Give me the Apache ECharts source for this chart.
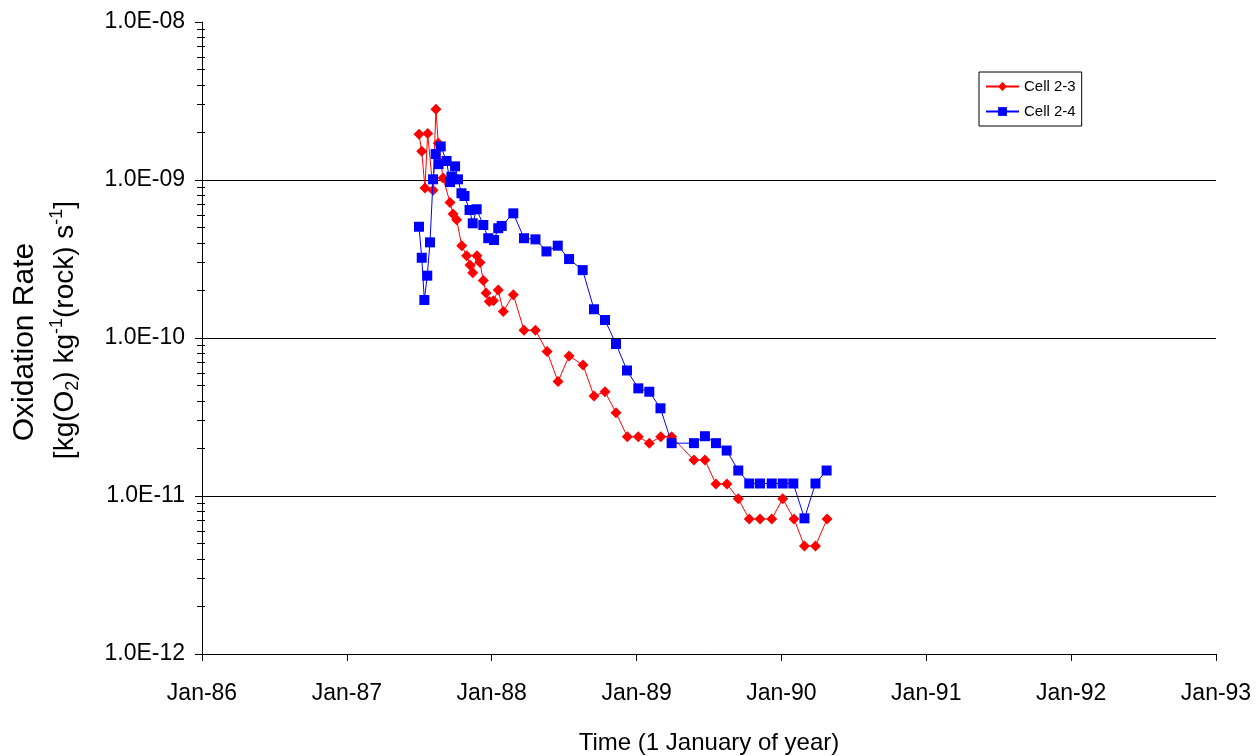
<!DOCTYPE html>
<html>
<head>
<meta charset="utf-8">
<script src="https://cdn.jsdelivr.net/npm/echarts@6/dist/echarts.min.js"></script>
<style>
html,body{margin:0;padding:0;background:#fff;}
#chart{width:1256px;height:756px;}
</style>
</head>
<body>
<div id="chart"></div>
<script>
// ---- data (time in decimal years, rate in kg(O2) kg-1(rock) s-1) ----
const seriesNames = ['Cell 2-3', 'Cell 2-4'];

const cell23Time = [1987.498, 1987.517, 1987.539, 1987.558, 1987.595, 1987.615, 1987.631, 1987.664, 1987.712, 1987.733,
  1987.758, 1987.793, 1987.827, 1987.850, 1987.869, 1987.898, 1987.919, 1987.942, 1987.961, 1987.983,
  1988.012, 1988.045, 1988.080, 1988.149, 1988.223, 1988.302, 1988.382, 1988.458, 1988.534, 1988.630,
  1988.706, 1988.782, 1988.858, 1988.936, 1989.012, 1989.088, 1989.167, 1989.242, 1989.396, 1989.472,
  1989.548, 1989.624, 1989.702, 1989.778, 1989.852, 1989.933, 1990.009, 1990.087, 1990.159, 1990.235, 1990.315];
const cell23Rate = [1.95e-9, 1.52e-9, 8.9e-10, 1.97e-9, 8.6e-10, 2.8e-9, 1.71e-9, 1.03e-9, 7.2e-10, 6.1e-10,
  5.6e-10, 3.84e-10, 3.32e-10, 2.9e-10, 2.59e-10, 3.32e-10, 3.0e-10, 2.31e-10, 1.93e-10, 1.70e-10,
  1.72e-10, 2.01e-10, 1.47e-10, 1.88e-10, 1.12e-10, 1.12e-10, 8.2e-11, 5.3e-11, 7.7e-11, 6.75e-11,
  4.3e-11, 4.57e-11, 3.37e-11, 2.37e-11, 2.37e-11, 2.16e-11, 2.37e-11, 2.37e-11, 1.69e-11, 1.69e-11,
  1.19e-11, 1.19e-11, 9.6e-12, 7.15e-12, 7.15e-12, 7.15e-12, 9.6e-12, 7.15e-12, 4.83e-12, 4.83e-12, 7.15e-12];

const cell24Time = [1987.498, 1987.517, 1987.535, 1987.555, 1987.574, 1987.595, 1987.613, 1987.633, 1987.648, 1987.688,
  1987.712, 1987.722, 1987.747, 1987.767, 1987.791, 1987.812, 1987.847, 1987.869, 1987.896, 1987.942,
  1987.976, 1988.016, 1988.045, 1988.069, 1988.149, 1988.223, 1988.302, 1988.378, 1988.456, 1988.534,
  1988.628, 1988.706, 1988.782, 1988.858, 1988.934, 1989.012, 1989.088, 1989.165, 1989.242, 1989.396,
  1989.472, 1989.548, 1989.622, 1989.702, 1989.778, 1989.852, 1989.933, 1990.009, 1990.082, 1990.159,
  1990.235, 1990.312];
const cell24Rate = [5.06e-10, 3.22e-10, 1.74e-10, 2.48e-10, 4.03e-10, 1.01e-9, 1.46e-9, 1.26e-9, 1.63e-9, 1.32e-9,
  9.7e-10, 1.05e-9, 1.22e-9, 1.01e-9, 8.24e-10, 7.92e-10, 6.46e-10, 5.32e-10, 6.53e-10, 5.19e-10,
  4.28e-10, 4.17e-10, 4.95e-10, 5.12e-10, 6.15e-10, 4.28e-10, 4.21e-10, 3.53e-10, 3.84e-10, 3.16e-10,
  2.69e-10, 1.52e-10, 1.30e-10, 9.16e-11, 6.23e-11, 4.8e-11, 4.57e-11, 3.59e-11, 2.16e-11, 2.16e-11,
  2.39e-11, 2.16e-11, 1.94e-11, 1.45e-11, 1.20e-11, 1.20e-11, 1.20e-11, 1.20e-11, 1.20e-11, 7.22e-12,
  1.20e-11, 1.45e-11];

// axis ranges / tick values
const xMin = 1986, xMax = 1993, xStep = 1;
const yMin = 1e-12, yMax = 1e-8;
const yMinorTicks = [];
for (let e = -12; e < -8; e++) {
  for (let m = 2; m <= 9; m++) yMinorTicks.push(m * Math.pow(10, e));
}

const xTitle = 'Time (1 January of year)';
const yTitle1 = 'Oxidation Rate';

// ---- chart ----
const FONT = '"Liberation Sans", Arial, sans-serif';
const chart = echarts.init(document.getElementById('chart'), null, {renderer: 'canvas'});

function pairs(t, v) { return t.map((x, i) => [x, v[i]]); }
function fmtExp(v) {
  const e = Math.round(Math.log10(v));
  const m = v / Math.pow(10, e);
  return m.toFixed(1) + 'E' + (e < 0 ? '-' : '+') + String(Math.abs(e)).padStart(2, '0');
}

const option = {
  animation: false,
  backgroundColor: '#fff',
  grid: {left: 202, right: 40, top: 22, bottom: 102, containLabel: false, outerBoundsMode: 'none'},
  legend: {
    orient: 'vertical',
    left: 979, top: 72,
    padding: [7, 6, 7, 6],
    borderColor: '#000', borderWidth: 1,
    itemWidth: 33, itemHeight: 11, itemGap: 10,
    textStyle: {fontFamily: FONT, fontSize: 15, color: '#000', lineHeight: 15},
    data: seriesNames
  },
  xAxis: {
    type: 'value', min: xMin, max: xMax, interval: xStep,
    name: xTitle, nameLocation: 'middle', nameGap: 77,
    nameTextStyle: {fontFamily: FONT, fontSize: 24, color: '#000'},
    axisLine: {lineStyle: {color: '#000', width: 1}},
    axisTick: {inside: false, length: 7, lineStyle: {color: '#000'}},
    axisLabel: {fontFamily: FONT, fontSize: 23, color: '#000', margin: 28,
      formatter: v => 'Jan-' + String(Math.round(v)).slice(2)},
    splitLine: {show: false}
  },
  yAxis: [
    {
      type: 'log', logBase: 10, min: yMin, max: yMax, splitNumber: 4,
      axisLine: {show: true, lineStyle: {color: '#000', width: 1}},
      axisTick: {show: true, inside: false, length: 7, lineStyle: {color: '#000'}},
      axisLabel: {fontFamily: FONT, fontSize: 23, color: '#000', margin: 17, formatter: fmtExp},
      splitLine: {show: true, showMinLine: false, showMaxLine: false, lineStyle: {color: '#000', width: 1}}
    },
    {
      type: 'log', logBase: 10, min: yMin, max: yMax, position: 'left',
      axisLine: {show: false},
      axisTick: {show: true, inside: false, length: 5, customValues: yMinorTicks, lineStyle: {color: '#000'}},
      axisLabel: {show: false},
      splitLine: {show: false}
    },
    {
      type: 'log', logBase: 10, min: yMin, max: yMax, position: 'left',
      axisLine: {show: false},
      axisTick: {show: true, inside: true, length: 3, customValues: yMinorTicks, lineStyle: {color: '#000'}},
      axisLabel: {show: false},
      splitLine: {show: false}
    }
  ],
  graphic: [
    {
      type: 'text', x: 25, y: 342, rotation: Math.PI / 2,
      style: {text: yTitle1, font: '30px ' + FONT, fill: '#000', align: 'center', verticalAlign: 'middle'}
    },
    {
      type: 'text', x: 65, y: 330, rotation: Math.PI / 2,
      style: {
        text: '{a|[kg(O}{sub|2}{a|) kg}{sup|-1}{a|(rock) s}{sup|-1}{a|]}',
        align: 'center', verticalAlign: 'middle',
        rich: {
          a: {fontFamily: FONT, fontSize: 28, lineHeight: 34, color: '#000'},
          sub: {fontFamily: FONT, fontSize: 18, lineHeight: 34, verticalAlign: 'bottom', color: '#000'},
          sup: {fontFamily: FONT, fontSize: 18, lineHeight: 34, verticalAlign: 'top', color: '#000'}
        }
      }
    }
  ],
  series: [
    {
      name: seriesNames[0], type: 'line', yAxisIndex: 0,
      data: pairs(cell23Time, cell23Rate),
      symbol: 'diamond', symbolSize: 11, showAllSymbol: true,
      lineStyle: {color: '#ff0000', width: 1},
      itemStyle: {color: '#ff0000'},
      z: 3
    },
    {
      name: seriesNames[1], type: 'line', yAxisIndex: 0,
      data: pairs(cell24Time, cell24Rate),
      symbol: 'rect', symbolSize: 10, showAllSymbol: true,
      lineStyle: {color: '#0000ff', width: 1},
      itemStyle: {color: '#0000ff'},
      z: 4
    }
  ]
};
chart.setOption(option);
</script>
</body>
</html>
